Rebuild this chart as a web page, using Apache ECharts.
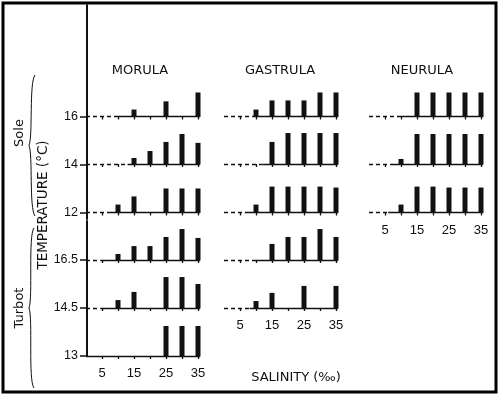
<!DOCTYPE html>
<html>
<head>
<meta charset="utf-8">
<script src="https://cdn.jsdelivr.net/npm/echarts@6/dist/echarts.min.js"></script>
<style>
  html, body { margin: 0; padding: 0; background: #fff; }
  #chart { width: 500px; height: 396px; }
</style>
</head>
<body>
<div id="chart"></div>
<script>
// salinity (per mille) on every small panel
const salinity = [5, 10, 15, 20, 25, 30, 35];
const salinityLabels = [5, 15, 25, 35];

// rows top to bottom: Sole 16, 14, 12 / Turbot 16.5, 14.5, 13 (deg C)
const soleTemps = ['12', '14', '16'];      // bottom-up
const turbotTemps = ['13', '14.5', '16.5']; // bottom-up

// relative bar height (100 = full bar of the top Neurula row)
const morula = [
  [0, 0, 29, 0, 63, 0, 100],
  [0, 0, 25, 54, 92, 125, 88],
  [0, 33, 67, 0, 100, 100, 100],
  [0, 25, 58, 58, 96, 129, 92],
  [0, 33, 67, 0, 129, 129, 100],
  [0, 0, 0, 0, 125, 125, 125]
];
const gastrula = [
  [0, 29, 67, 67, 67, 100, 100],
  [0, 0, 92, 129, 129, 129, 129],
  [0, 33, 108, 108, 108, 108, 104],
  [0, 0, 67, 96, 96, 129, 96],
  [0, 29, 63, 0, 92, 0, 92]
];
const neurula = [
  [0, 0, 100, 100, 100, 100, 100],
  [0, 21, 125, 125, 125, 125, 125],
  [0, 33, 108, 108, 104, 104, 104]
];
// salinity up to which the baseline is drawn dashed
const morulaDashedTo = [10, 13, 7.5, 4.5, 4.5, 0];
const gastrulaDashedTo = [9, 12, 6.5, 10, 8];
const neurulaDashedTo = [10, 7.5, 6];

const stages = ['MORULA', 'GASTRULA', 'NEURULA'];

// layout
const rowBase = [116.5, 164, 212.5, 260, 308, 356];
const rowStep = 48;
const colLeft = [86, 224, 369];
const xMax = 36;
const pxPerSal = 3.2;
const panelH = 36;
const yMax = 150;
const ink = '#111';
const font = 'Liberation Sans';

const grids = [], xAxes = [], yAxes = [], series = [];

function addPanel(col, row, vals, dashedTo, showLabels) {
  const i = grids.length;
  grids.push({
    left: colLeft[col], top: rowBase[row] - panelH,
    width: xMax * pxPerSal, height: panelH
  });
  xAxes.push({
    type: 'value', gridIndex: i, min: 0, max: xMax,
    axisLine: { show: false },
    splitLine: { show: false },
    axisTick: { show: true, customValues: salinity, length: 3, lineStyle: { color: ink, width: 1.3 } },
    axisLabel: {
      show: showLabels, customValues: salinityLabels, margin: 11,
      color: ink, fontSize: 13, fontFamily: font
    }
  });
  yAxes.push({ type: 'value', gridIndex: i, min: 0, max: yMax, show: false });
  const lines = [];
  if (dashedTo > 0) {
    lines.push([
      { coord: [0, 0], lineStyle: { type: [4, 3] } },
      { coord: [dashedTo, 0] }
    ]);
  }
  lines.push([
    { coord: [dashedTo, 0], lineStyle: { type: 'solid' } },
    { coord: [xMax - 0.3, 0] }
  ]);
  series.push({
    type: 'bar', xAxisIndex: i, yAxisIndex: i, barWidth: 5, z: 2,
    data: salinity.map((s, k) => [s, vals[k]]).filter(d => d[1] > 0),
    itemStyle: { color: ink },
    markLine: {
      silent: true, symbol: ['none', 'none'], label: { show: false },
      lineStyle: { color: ink, width: 1.3 },
      data: lines
    }
  });
}

morula.forEach((v, r) => addPanel(0, r, v, morulaDashedTo[r], r === morula.length - 1));
gastrula.forEach((v, r) => addPanel(1, r, v, gastrulaDashedTo[r], r === gastrula.length - 1));
neurula.forEach((v, r) => addPanel(2, r, v, neurulaDashedTo[r], r === neurula.length - 1));

// temperature axes (one per species), rows in index units of rowStep
function addTempAxis(top, bottom, baseRow, labels) {
  const i = grids.length;
  const base = rowBase[baseRow];
  grids.push({ left: 87, top: top, width: 10, height: bottom - top });
  xAxes.push({ type: 'value', gridIndex: i, show: false });
  yAxes.push({
    type: 'value', gridIndex: i,
    min: (base - bottom) / rowStep, max: (base - top) / rowStep,
    axisLine: { show: true, lineStyle: { color: ink, width: 2 } },
    splitLine: { show: false },
    axisTick: { show: true, customValues: [0, 1, 2], length: 7, lineStyle: { color: ink, width: 1.5 } },
    axisLabel: {
      customValues: [0, 1, 2], margin: 9, color: ink, fontSize: 12.5, fontFamily: font,
      formatter: v => labels[Math.round(v)]
    }
  });
}
addTempAxis(5, 219, 2, soleTemps);
addTempAxis(221, 356, 5, turbotTemps);

function brace(x0, xTip, y0, y1) {
  const ym = (y0 + y1) / 2;
  const st = { fill: 'none', stroke: ink, lineWidth: 1 };
  return [
    { type: 'bezierCurve', shape: { x1: x0, y1: y0, x2: xTip, y2: ym, cpx1: x0 - 6, cpy1: y0 + 8, cpx2: xTip + 4, cpy2: ym - 10 }, style: st },
    { type: 'bezierCurve', shape: { x1: xTip, y1: ym, x2: x0, y2: y1, cpx1: xTip + 4, cpy1: ym + 10, cpx2: x0 - 6, cpy2: y1 - 8 }, style: st }
  ];
}

const chart = echarts.init(document.getElementById('chart'), null, { renderer: 'canvas' });
chart.setOption({
  animation: false,
  backgroundColor: '#fff',
  grid: grids,
  xAxis: xAxes,
  yAxis: yAxes,
  series: series,
  graphic: [
    { type: 'rect', shape: { x: 3, y: 3, width: 493, height: 389 },
      style: { fill: 'none', stroke: '#000', lineWidth: 3 } },
    ...stages.map((s, k) => ({
      type: 'text', x: [140, 280, 422][k], y: 71,
      style: { text: s, fill: ink, font: '13px "DejaVu Sans"', align: 'center', verticalAlign: 'middle' }
    })),
    { type: 'text', x: 296, y: 378,
      style: { text: 'SALINITY (‰)', fill: ink, font: '13px "DejaVu Sans"', align: 'center', verticalAlign: 'middle' } },
    { type: 'text', x: 43, y: 205, rotation: Math.PI / 2,
      style: { text: 'TEMPERATURE (°C)', fill: ink, font: '13.5px "DejaVu Sans"', align: 'center', verticalAlign: 'middle' } },
    { type: 'text', x: 20, y: 133, rotation: Math.PI / 2,
      style: { text: 'Sole', fill: ink, font: '13px "DejaVu Sans"', align: 'center', verticalAlign: 'middle' } },
    { type: 'text', x: 20, y: 308, rotation: Math.PI / 2,
      style: { text: 'Turbot', fill: ink, font: '13px "DejaVu Sans"', align: 'center', verticalAlign: 'middle' } },
    ...brace(35, 29, 75, 216),
    ...brace(34, 29, 228, 388)
  ]
});
</script>
</body>
</html>
